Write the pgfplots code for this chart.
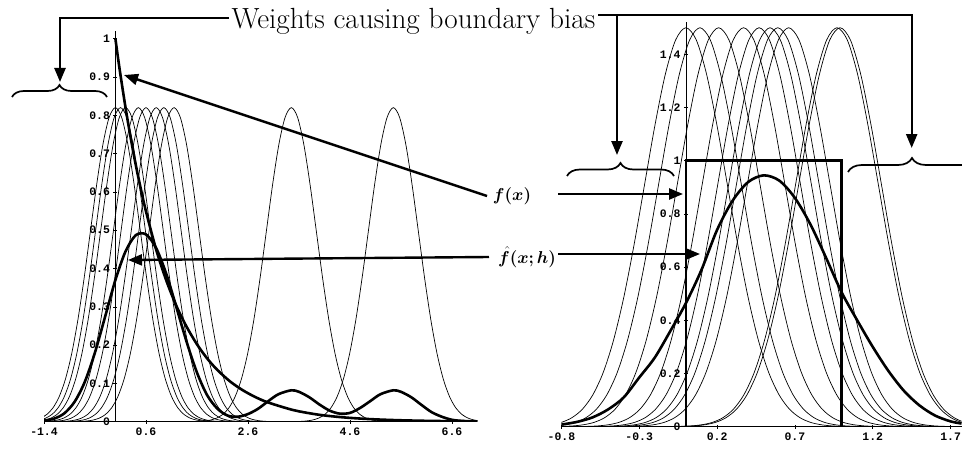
\documentclass[border=0pt]{standalone}
\usepackage{fontspec}
\usepackage{bm}
\usepackage{pgfplots}
\usepackage{pgfplotstable}
\pgfplotsset{compat=1.18}
\usetikzlibrary{decorations.pathreplacing,arrows.meta}
\newfontfamily\tickfont{Liberation Mono}

% Gaussian kernel shapes (offset from the data point, height)
\pgfplotstableread{
d k
-1.96 0.0002
-1.8375 0.0007
-1.715 0.0018
-1.5925 0.0042
-1.47 0.0091
-1.3475 0.0187
-1.225 0.0360
-1.1025 0.0653
-0.98 0.1110
-0.8575 0.1774
-0.735 0.2663
-0.6125 0.3754
-0.49 0.4973
-0.3675 0.6189
-0.245 0.7237
-0.1225 0.7947
0 0.82
0.1225 0.7947
0.245 0.7237
0.3675 0.6189
0.49 0.4973
0.6125 0.3754
0.735 0.2663
0.8575 0.1774
0.98 0.1110
1.1025 0.0653
1.225 0.0360
1.3475 0.0187
1.47 0.0091
1.5925 0.0042
1.715 0.0018
1.8375 0.0007
1.96 0.0002
}\kernL

\pgfplotstableread{
d k
-1.064 0.0005
-0.9975 0.0014
-0.931 0.0033
-0.8645 0.0077
-0.798 0.0167
-0.7315 0.0342
-0.665 0.0659
-0.5985 0.1194
-0.532 0.2030
-0.4655 0.3245
-0.399 0.4871
-0.3325 0.6867
-0.266 0.9098
-0.1995 1.1322
-0.133 1.3238
-0.0665 1.4538
0 1.5
0.0665 1.4538
0.133 1.3238
0.1995 1.1322
0.266 0.9098
0.3325 0.6867
0.399 0.4871
0.4655 0.3245
0.532 0.2030
0.5985 0.1194
0.665 0.0659
0.7315 0.0342
0.798 0.0167
0.8645 0.0077
0.931 0.0033
0.9975 0.0014
1.064 0.0005
}\kernR

% kernel density estimate, exponential sample
\pgfplotstableread{
x y
-1.4 0.003
-1.2 0.008
-1.0 0.022
-0.8 0.052
-0.6 0.104
-0.4 0.181
-0.2 0.275
0 0.370
0.2 0.445
0.4 0.487
0.6 0.489
0.8 0.453
1.0 0.385
1.2 0.297
1.4 0.207
1.6 0.128
1.8 0.069
2.0 0.034
2.2 0.016
2.4 0.013
2.6 0.020
2.8 0.034
3.0 0.054
3.2 0.072
3.45 0.082
3.6 0.078
3.8 0.064
4.0 0.045
4.2 0.029
4.4 0.021
4.6 0.023
4.8 0.036
5.0 0.054
5.2 0.072
5.45 0.082
5.6 0.078
5.8 0.064
6.0 0.044
6.2 0.025
6.4 0.013
6.6 0.005
6.8 0.002
7.1 0.0003
}\kdeL

% true exponential density
\pgfplotstableread{
x y
0 1
0.05 0.951
0.1 0.905
0.2 0.819
0.3 0.741
0.4 0.670
0.5 0.607
0.6 0.549
0.8 0.449
1.0 0.368
1.2 0.301
1.4 0.247
1.6 0.202
1.8 0.165
2.0 0.135
2.25 0.105
2.5 0.082
2.75 0.064
3.0 0.050
3.5 0.030
4.0 0.018
4.5 0.011
5.0 0.0067
5.5 0.0041
6.0 0.0025
6.5 0.0015
7.1 0.0008
}\fL

% kernel density estimate, uniform sample
\pgfplotstableread{
x y
-0.8 0.008
-0.7 0.018
-0.6 0.035
-0.5 0.065
-0.4 0.11
-0.3 0.185
-0.2 0.26
-0.1 0.36
0 0.465
0.1 0.59
0.2 0.74
0.3 0.85
0.4 0.92
0.5 0.945
0.6 0.925
0.7 0.86
0.8 0.76
0.9 0.635
1.0 0.505
1.1 0.40
1.2 0.30
1.3 0.21
1.4 0.135
1.5 0.08
1.6 0.042
1.7 0.02
1.77 0.012
}\kdeR

\pgfplotsset{
  kde axis/.style={
    scale only axis, enlargelimits=false, clip=true,
    axis x line=bottom, axis y line=middle,
    axis line style={-, line width=0.8bp, black},
    tick style={line width=0.6bp, black},
    major tick length=4bp, tick align=center,
    hide obscured x ticks=false, hide obscured y ticks=false,
    ticklabel style={font=\tickfont\bfseries\fontsize{11.5}{11.5}\selectfont},
    xticklabel style={yshift=-1bp},
  },
  kern/.style={black, line width=0.7bp, smooth, no marks},
  bold/.style={black, line width=2.6bp, smooth, no marks},
}

\newcommand\fxlabel{\fontsize{18}{18}\selectfont$\bm{f(x)}$}
\newcommand\fhlabel{\fontsize{18}{18}\selectfont$\bm{\hat f(x;h)}$}

\begin{document}
\begin{tikzpicture}
\path[use as bounding box] (0,0) rectangle (962bp,-454bp);

\begin{axis}[kde axis,
  at={(44bp,-421.7bp)}, anchor=south west,
  width=433.5bp, height=390.66bp,
  xmin=-1.4, xmax=7.1, ymin=0, ymax=1.02,
  xtick={-1.4,0.6,2.6,4.6,6.6}, xticklabels={-1.4,0.6,2.6,4.6,6.6},
  ytick={0,0.1,0.2,0.3,0.4,0.5,0.6,0.7,0.8,0.9,1},
  yticklabels={0,0.1,0.2,0.3,0.4,0.5,0.6,0.7,0.8,0.9,1},
]
\pgfplotsinvokeforeach{0,0.1,0.2,0.45,0.6,0.8,0.95,1.15,3.45,5.45}{
  \addplot[kern] table[x expr=\thisrow{d}+#1, y=k] {\kernL};
}
\addplot[bold] table[x=x, y=y] {\fL};
\addplot[bold] table[x=x, y=y] {\kdeL};
\end{axis}

\begin{axis}[kde axis,
  at={(561.4bp,-426.7bp)}, anchor=south west,
  width=400.1bp, height=404.3bp,
  xmin=-0.8, xmax=1.77, ymin=0, ymax=1.52,
  xtick={-0.8,-0.3,0.2,0.7,1.2,1.7}, xticklabels={-0.8,-0.3,0.2,0.7,1.2,1.7},
  ytick={0,0.2,0.4,0.6,0.8,1,1.2,1.4},
  yticklabels={0,0.2,0.4,0.6,0.8,1,1.2,1.4},
]
\pgfplotsinvokeforeach{0,0.09,0.21,0.37,0.47,0.54,0.59,0.66,0.97,0.99}{
  \addplot[kern] table[x expr=\thisrow{d}+#1, y=k] {\kernR};
}
\addplot[black, line width=2.6bp, sharp plot, line join=miter] coordinates {(0,0) (0,1) (1,1) (1,0)};
\addplot[bold] table[x=x, y=y] {\kdeR};
\end{axis}

% annotations
\begin{scope}[x=1bp, y=-1bp]
  \tikzset{
    arr/.style={line width=2.4bp, -{Triangle[length=14bp, width=11bp]}},
    conn/.style={line width=2bp},
    br/.style={line width=1.7bp, decorate}}
  \node[anchor=base, inner sep=0pt] at (413.5,28) {\fontsize{29.3}{29.3}\selectfont Weights causing boundary bias};
  \draw[conn] (229,18.3) -- (60,18.3);
  \draw[arr] (60,17.3) -- (60,82);
  \draw[conn] (598,15) -- (912.7,15);
  \draw[arr] (617,14) -- (617,155);
  \draw[arr] (911.7,14) -- (911.7,148);
  \draw[br, decoration={brace, amplitude=12bp}] (12,97) -- (107,97);
  \draw[br, decoration={brace, amplitude=13bp}] (567,176) -- (674,176);
  \draw[br, decoration={brace, amplitude=14bp}] (848,172) -- (976,172);
  \node[inner sep=0pt] at (512,196) {\fxlabel};
  \node[inner sep=0pt] at (527,257) {\fhlabel};
  \draw[arr] (487,196) -- (124,75);
  \draw[arr] (558,194) -- (683,194);
  \draw[arr] (489,257) -- (128,260);
  \draw[arr] (558,254) -- (700,254);
\end{scope}
\end{tikzpicture}
\end{document}
